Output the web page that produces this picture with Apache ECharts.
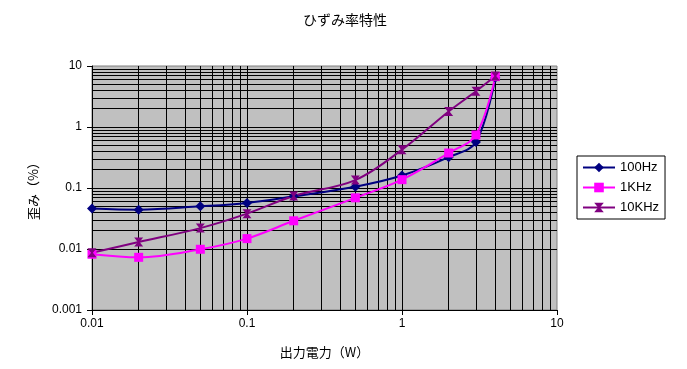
<!DOCTYPE html>
<html><head><meta charset="utf-8">
<script src="https://cdn.jsdelivr.net/npm/echarts@6/dist/echarts.min.js"></script>
<style>html,body{margin:0;padding:0;background:#fff}#c{width:687px;height:369px}</style>
</head><body><div id="c"></div>
<script>
const titleText = 'ひずみ率特性';
const xName = '出力電力（W）';
const yName = '歪み（%）';
const power = [0.01, 0.02, 0.05, 0.1, 0.2, 0.5, 1, 2, 3, 4];
const s100Hz = [0.046, 0.044, 0.050, 0.057, 0.073, 0.105, 0.16, 0.32, 0.57, 6.4];
const s1KHz = [0.0082, 0.0073, 0.0099, 0.0148, 0.029, 0.069, 0.137, 0.375, 0.74, 6.7];
const s10KHz = [0.0087, 0.013, 0.022, 0.038, 0.074, 0.135, 0.425, 1.8, 3.85, 6.85];
const seriesNames = ['100Hz', '1KHz', '10KHz'];
const xDecades = [0.01, 0.1, 1];
const yDecades = [0.001, 0.01, 0.1, 1];
const multipliers = [1, 2, 3, 4, 5, 6, 7, 8, 9];

const gridMarks = [];
xDecades.forEach(d => multipliers.forEach(m => gridMarks.push({xAxis: +(d*m).toPrecision(3)})));
yDecades.forEach(d => multipliers.forEach(m => gridMarks.push({yAxis: +(d*m).toPrecision(3)})));

const toPairs = arr => power.map((p, i) => [p, arr[i]]);
const hourglass = 'path://M0,0 L10,0 L6,5 L10,10 L0,10 L4,5 Z';
const colors = ['#000080', '#FF00FF', '#800080'];
const symbols = ['diamond', 'rect', hourglass];
const sizes = [10, 9, 9];
const datas = [s100Hz, s1KHz, s10KHz];

const chart = echarts.init(document.getElementById('c'), null, {renderer: 'canvas'});
const series = [{
  type: 'line', name: '_grid', data: [], z: 1, silent: true,
  markLine: {
    silent: true, animation: false, symbol: ['none', 'none'],
    label: {show: false},
    lineStyle: {color: '#000', width: 1, type: 'solid'},
    emphasis: {disabled: true},
    data: gridMarks
  }
}];
datas.forEach((d, i) => series.push({
  type: 'line', name: seriesNames[i], data: toPairs(d), z: 5,
  smooth: 0.35, symbol: symbols[i], symbolSize: sizes[i],
  itemStyle: {color: colors[i]},
  lineStyle: {color: colors[i], width: 2},
  animation: false
}));

chart.setOption({
  animation: false,
  textStyle: {fontFamily: 'Liberation Sans, Noto Sans CJK JP'},
  title: {
    text: titleText, left: 340, top: 8, textAlign: 'center',
    textStyle: {fontFamily: 'Noto Sans CJK JP', fontSize: 14, fontWeight: 'normal', color: '#000'}
  },
  grid: {
    left: 92, right: 130, top: 66, bottom: 59,
    show: true, backgroundColor: '#c0c0c0', borderColor: '#808080', borderWidth: 1
  },
  legend: {
    orient: 'vertical', left: 577, top: 156,
    data: seriesNames,
    borderColor: '#000', borderWidth: 1, borderRadius: 0,
    padding: [5, 6, 5, 5], itemGap: 7, itemWidth: 32, itemHeight: 12,
    textStyle: {fontFamily: 'Liberation Sans', fontSize: 13, color: '#000'}
  },
  xAxis: {
    type: 'log', logBase: 10, min: 0.01, max: 10,
    name: xName, nameLocation: 'middle', nameGap: 36,
    nameTextStyle: {fontFamily: 'Noto Sans CJK JP', fontSize: 13, color: '#000'},
    axisLine: {show: true, onZero: false, lineStyle: {color: '#000', width: 1}},
    axisTick: {show: true, length: 5, inside: false, lineStyle: {color: '#000'}},
    axisLabel: {color: '#000', fontSize: 12, margin: 8, fontFamily: 'Liberation Sans'},
    splitLine: {show: false}, minorTick: {show: false}
  },
  yAxis: {
    type: 'log', logBase: 10, min: 0.001, max: 10,
    name: yName, nameLocation: 'middle', nameGap: 52, nameRotate: 90,
    nameTextStyle: {fontFamily: 'Noto Sans CJK JP', fontSize: 13, color: '#000'},
    axisLine: {show: true, onZero: false, lineStyle: {color: '#000', width: 1}},
    axisTick: {show: true, length: 5, inside: false, lineStyle: {color: '#000'}},
    axisLabel: {color: '#000', fontSize: 12, margin: 10, fontFamily: 'Liberation Sans'},
    splitLine: {show: false}, minorTick: {show: false}
  },
  series: series
});
</script>
</body></html>
